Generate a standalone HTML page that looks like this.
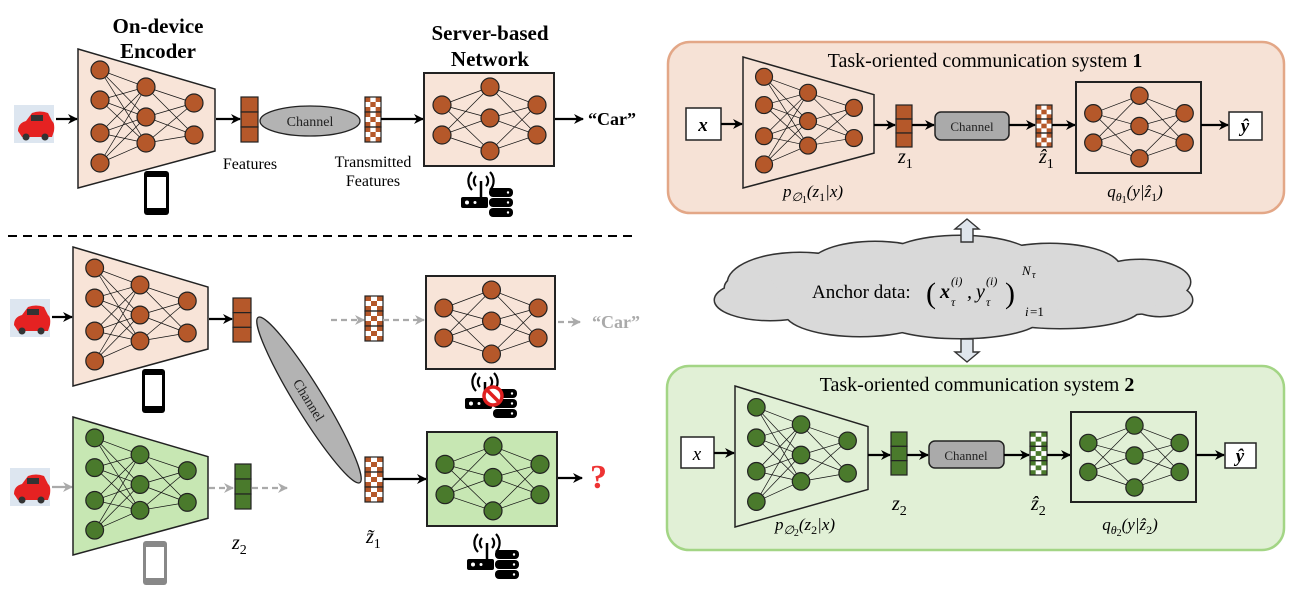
<!DOCTYPE html>
<html><head><meta charset="utf-8"><style>
html,body{margin:0;padding:0;background:#fff;}
svg{display:block;}
text{font-family:"Liberation Serif",serif;}
.m{font-family:"Liberation Serif",serif;font-style:italic;}
</style></head><body>
<svg id="s" width="1294" height="606" viewBox="0 0 1294 606" xmlns="http://www.w3.org/2000/svg">
<defs>
<marker id="ab" markerWidth="10" markerHeight="10" refX="9" refY="5" orient="auto" markerUnits="userSpaceOnUse"><path d="M0,0 L10,5 L0,10 L3,5 z" fill="#000"/></marker>
<marker id="ag" markerWidth="10" markerHeight="10" refX="9" refY="5" orient="auto" markerUnits="userSpaceOnUse"><path d="M0,0 L10,5 L0,10 L3,5 z" fill="#aaa"/></marker>
</defs>
<rect x="668" y="42" width="616" height="171" rx="22" fill="#f6e2d6" stroke="#e3a787" stroke-width="2.5"/>
<rect x="667" y="366" width="617" height="184" rx="22" fill="#e1f0d6" stroke="#a3d585" stroke-width="2.5"/>
<g id="g"></g>
<text x="158" y="33" font-size="21" font-weight="bold" text-anchor="middle">On-device</text>
<text x="158" y="58" font-size="21" font-weight="bold" text-anchor="middle">Encoder</text>
<text x="490" y="40" font-size="21" font-weight="bold" text-anchor="middle">Server-based</text>
<text x="490" y="66" font-size="21" font-weight="bold" text-anchor="middle">Network</text>
<text x="310" y="126" font-size="14" text-anchor="middle" fill="#222">Channel</text>
<text x="250" y="169" font-size="16" text-anchor="middle">Features</text>
<text x="373" y="167" font-size="16" text-anchor="middle">Transmitted</text>
<text x="373" y="186" font-size="16" text-anchor="middle">Features</text>
<text x="588" y="125" font-size="18" font-weight="bold">“Car”</text>
<text x="592" y="328" font-size="18" font-weight="bold" fill="#aaa">“Car”</text>
<text x="590" y="488" font-size="34" font-weight="bold" fill="#e33">?</text>
<text x="309" y="405" font-size="14" text-anchor="middle" fill="#222" transform="rotate(58.4 309 400)">Channel</text>
<text x="232" y="549" font-size="20" class="m">z<tspan font-size="14" dy="5" font-style="normal">2</tspan></text>
<text x="366" y="543" font-size="20" class="m">z̃<tspan font-size="14" dy="5" font-style="normal">1</tspan></text>

<text x="985" y="67" font-size="20" text-anchor="middle">Task-oriented communication system <tspan font-weight="bold">1</tspan></text>
<text x="977" y="391" font-size="20" text-anchor="middle">Task-oriented communication system <tspan font-weight="bold">2</tspan></text>
<text x="703" y="131" font-size="19" font-weight="bold" text-anchor="middle" class="m">x</text>
<text x="1245" y="132" font-size="19" font-weight="bold" text-anchor="middle" class="m">ŷ</text>
<text x="972" y="131" font-size="13" text-anchor="middle" fill="#222">Channel</text>
<text x="898" y="163" font-size="20" class="m">z<tspan font-size="14" dy="5" font-style="normal">1</tspan></text>
<text x="1039" y="163" font-size="20" class="m">ẑ<tspan font-size="14" dy="5" font-style="normal">1</tspan></text>
<text x="813" y="197" font-size="17" text-anchor="middle" class="m">p<tspan font-size="12" dy="4">∅</tspan><tspan font-size="10" dy="2" font-style="normal">1</tspan><tspan dy="-6">(z</tspan><tspan font-size="12" dy="4" font-style="normal">1</tspan><tspan dy="-4">|x)</tspan></text>
<text x="1135" y="197" font-size="17" text-anchor="middle" class="m">q<tspan font-size="12" dy="4">θ</tspan><tspan font-size="10" dy="2" font-style="normal">1</tspan><tspan dy="-6">(y|ẑ</tspan><tspan font-size="12" dy="4" font-style="normal">1</tspan><tspan dy="-4">)</tspan></text>

<text x="697" y="460" font-size="19" text-anchor="middle" class="m">x</text>
<text x="1240" y="462" font-size="19" font-weight="bold" text-anchor="middle" class="m">ŷ</text>
<text x="966" y="460" font-size="13" text-anchor="middle" fill="#222">Channel</text>
<text x="892" y="510" font-size="20" class="m">z<tspan font-size="14" dy="5" font-style="normal">2</tspan></text>
<text x="1031" y="510" font-size="20" class="m">ẑ<tspan font-size="14" dy="5" font-style="normal">2</tspan></text>
<text x="805" y="530" font-size="17" text-anchor="middle" class="m">p<tspan font-size="12" dy="4">∅</tspan><tspan font-size="10" dy="2" font-style="normal">2</tspan><tspan dy="-6">(z</tspan><tspan font-size="12" dy="4" font-style="normal">2</tspan><tspan dy="-4">|x)</tspan></text>
<text x="1130" y="530" font-size="17" text-anchor="middle" class="m">q<tspan font-size="12" dy="4">θ</tspan><tspan font-size="10" dy="2" font-style="normal">2</tspan><tspan dy="-6">(y|ẑ</tspan><tspan font-size="12" dy="4" font-style="normal">2</tspan><tspan dy="-4">)</tspan></text>
<g id="anchor"></g>
</svg>
<script>
var g=document.getElementById('g'),H='';
function add(s){H+=s;}
function line(x1,y1,x2,y2,o){o=o||{};var c=o.c||'#000',w=o.w||2;
 add('<line x1="'+x1+'" y1="'+y1+'" x2="'+x2+'" y2="'+y2+'" stroke="'+c+'" stroke-width="'+w+'"'+(o.d?' stroke-dasharray="'+o.d+'"':'')+(o.m?' marker-end="url(#'+o.m+')"':'')+'/>');}
function arr(x1,y,x2,gray,dash){line(x1,y,x2,y,{c:gray?'#aaa':'#000',w:2.2,m:gray?'ag':'ab',d:dash?'6,4':null});}
function net(cols,nf,r){
 for(var i=0;i<cols.length-1;i++)for(var a=0;a<cols[i].length;a++)for(var b=0;b<cols[i+1].length;b++)
  add('<line x1="'+cols[i][a][0]+'" y1="'+cols[i][a][1]+'" x2="'+cols[i+1][b][0]+'" y2="'+cols[i+1][b][1]+'" stroke="#111" stroke-width="0.7"/>');
 cols.forEach(function(c){c.forEach(function(p){add('<circle cx="'+p[0]+'" cy="'+p[1]+'" r="'+r+'" fill="'+nf+'" stroke="#222" stroke-width="1.2"/>');});});
}
function enc(x,y,w,h,fill,nf){var sx=w/137,sy=h/139;
 add('<polygon points="'+x+','+y+' '+(x+w)+','+(y+40*sy)+' '+(x+w)+','+(y+102*sy)+' '+x+','+(y+h)+'" fill="'+fill+'" stroke="#222" stroke-width="1.5"/>');
 var C=[[[22,21],[22,51],[22,84],[22,114]],[[68,38],[68,68],[68,94]],[[116,54],[116,86]]];
 net(C.map(function(c){return c.map(function(p){return [x+p[0]*sx,y+p[1]*sy];});}),nf,9*Math.min(sx,sy));}
function dec(x,y,w,h,fill,nf){var sx=w/130,sy=h/93;
 add('<rect x="'+x+'" y="'+y+'" width="'+w+'" height="'+h+'" fill="'+fill+'" stroke="#222" stroke-width="2"/>');
 var C=[[[18,32],[18,62]],[[66,14],[66,45],[66,78]],[[113,32],[113,62]]];
 net(C.map(function(c){return c.map(function(p){return [x+p[0]*sx,y+p[1]*sy];});}),nf,9*Math.min(sx,sy));}
function feat(x,y,w,h,f){var ch=h/3;for(var i=0;i<3;i++)add('<rect x="'+x+'" y="'+(y+i*ch)+'" width="'+w+'" height="'+ch+'" fill="'+f+'" stroke="#222" stroke-width="1.2"/>');}
function chk(x,y,w,h,f){var ch=h/3;add('<rect x="'+x+'" y="'+y+'" width="'+w+'" height="'+h+'" fill="#fff"/>');
 for(var i=0;i<3;i++){var n=3,cw=w/n,cy=ch/n;for(var a=0;a<n;a++)for(var b=0;b<n;b++)if((a+b)%2==0)add('<rect x="'+(x+a*cw)+'" y="'+(y+i*ch+b*cy)+'" width="'+cw+'" height="'+cy+'" fill="'+f+'"/>');
 add('<rect x="'+x+'" y="'+(y+i*ch)+'" width="'+w+'" height="'+ch+'" fill="none" stroke="#222" stroke-width="1.2"/>');}}
function car(x,y){add('<rect x="'+x+'" y="'+y+'" width="40" height="38" fill="#dde6f0"/><path d="M'+(x+4)+','+(y+26)+' q0,-8 8,-10 l6,-8 q8,-3 16,0 l4,8 q3,2 2,10 l-2,6 h-30 z" fill="#e52222"/><rect x="'+(x+17)+'" y="'+(y+10)+'" width="12" height="6" fill="#333"/><circle cx="'+(x+12)+'" cy="'+(y+32)+'" r="3.5" fill="#333"/><circle cx="'+(x+31)+'" cy="'+(y+32)+'" r="3.5" fill="#333"/>');}
function phone(x,y,w,h,c){add('<rect x="'+x+'" y="'+y+'" width="'+w+'" height="'+h+'" rx="3" fill="'+c+'"/><rect x="'+(x+3)+'" y="'+(y+6)+'" width="'+(w-6)+'" height="'+(h-13)+'" fill="#fff"/>');}
function icon(x,y,no){
 var cx=x+20,cy=y+8;
 add('<path d="M'+(cx-5)+','+(cy-5)+' a7,7 0 0 0 0,10 M'+(cx+5)+','+(cy-5)+' a7,7 0 0 1 0,10 M'+(cx-9)+','+(cy-9)+' a13,13 0 0 0 0,18 M'+(cx+9)+','+(cy-9)+' a13,13 0 0 1 0,18" fill="none" stroke="#000" stroke-width="2.2"/>');
 add('<line x1="'+cx+'" y1="'+cy+'" x2="'+cx+'" y2="'+(y+24)+'" stroke="#000" stroke-width="2.5"/>');
 add('<rect x="'+x+'" y="'+(y+24)+'" width="27" height="11" rx="2" fill="#000"/><circle cx="'+(x+6)+'" cy="'+(y+29.5)+'" r="2" fill="#fff"/><circle cx="'+(x+14)+'" cy="'+(y+29.5)+'" r="1.5" fill="#fff"/>');
 for(var i=0;i<3;i++)add('<rect x="'+(x+28)+'" y="'+(y+15+i*10)+'" width="24" height="9" rx="4" fill="#000"/><circle cx="'+(x+47)+'" cy="'+(y+19.5+i*10)+'" r="1.2" fill="#fff"/>');
 if(no)add('<circle cx="'+(x+28)+'" cy="'+(y+22)+'" r="9" fill="#fff" stroke="#e02020" stroke-width="3.5"/><line x1="'+(x+22)+'" y1="'+(y+16)+'" x2="'+(x+34)+'" y2="'+(y+28)+'" stroke="#e02020" stroke-width="3.5"/>');}
var OR='#b5582a',GR='#4a7a2c',PO='#f8e4d8',PG='#c7e7b3';
car(14,105);arr(56,119,77);
enc(78,49,137,139,PO,OR);
arr(216,119,240);feat(241,97,17,45,OR);
add('<ellipse cx="310" cy="121" rx="50" ry="15" fill="#b3b3b3" stroke="#222" stroke-width="1.3"/>');
chk(365,97,16,45,OR);arr(381,119,423);
dec(424,73,130,93,PO,OR);arr(555,119,583);
phone(144,171,25,44,'#000');icon(461,173,false);
line(8,236,636,236,{c:'#000',w:2,d:'9,6'});
car(10,299);arr(52,317,72);
enc(73,247,135,139,PO,OR);
arr(209,319,232);feat(233,298,18,44,OR);
add('<ellipse cx="309" cy="400" rx="97" ry="14" fill="#b3b3b3" stroke="#222" stroke-width="1.3" transform="rotate(58.4 309 400)"/>');
arr(331,320,364,true,true);chk(365,296,18,45,OR);arr(383,320,424,true,true);
dec(426,276,129,93,PO,OR);arr(558,322,580,true,true);
phone(142,369,23,44,'#000');icon(465,374,true);
car(10,468);arr(52,487,72,true);
enc(73,417,135,138,PG,GR);
arr(209,488,233,true,true);feat(235,464,16,45,GR);arr(252,488,287,true,true);
chk(365,457,18,45,OR);arr(383,479,426);
dec(427,432,130,94,PG,GR);arr(558,478,582);
phone(143,541,24,44,'#888');icon(467,535,false);
add('<rect x="686" y="108" width="35" height="32" fill="#fff" stroke="#222" stroke-width="1.5"/>');
arr(721,124,742);enc(743,57,131,131,'#f6e2d6',OR);
arr(874,125,895);feat(896,105,16,42,OR);arr(912,125,934);
add('<rect x="935" y="112" width="74" height="28" rx="6" fill="#aaa" stroke="#222" stroke-width="1.5"/>');
arr(1009,125,1035);chk(1036,105,16,42,OR);arr(1052,125,1075);
dec(1076,82,125,91,'#f6e2d6',OR);arr(1201,125,1228);
add('<rect x="1229" y="112" width="33" height="28" fill="#fff" stroke="#222" stroke-width="1.5"/>');
add('<rect x="681" y="437" width="33" height="31" fill="#fff" stroke="#222" stroke-width="1.5"/>');
arr(714,453,734);enc(735,386,133,141,'#e1f0d6',GR);
arr(868,455,890);feat(891,432,16,43,GR);arr(907,455,928);
add('<rect x="929" y="441" width="75" height="27" rx="6" fill="#aaa" stroke="#222" stroke-width="1.5"/>');
arr(1004,455,1029);chk(1030,432,17,43,GR);arr(1047,455,1070);
dec(1071,412,125,90,'#e1f0d6',GR);arr(1196,455,1224);
add('<rect x="1225" y="443" width="31" height="25" fill="#fff" stroke="#222" stroke-width="1.5"/>');
var E=[[800,283,72,30],[875,266,65,24],[960,262,78,26],[1050,268,70,24],[1140,282,50,22],[1160,300,32,16],[770,300,55,20],[860,312,75,24],[960,318,80,20],[1060,308,80,20],[1130,300,40,14],[750,288,25,14],[955,292,180,32],[1100,292,70,22]];
E.forEach(function(e){add('<ellipse cx="'+e[0]+'" cy="'+e[1]+'" rx="'+e[2]+'" ry="'+e[3]+'" fill="#333" stroke="#333" stroke-width="3"/>');});
E.forEach(function(e){add('<ellipse cx="'+e[0]+'" cy="'+e[1]+'" rx="'+e[2]+'" ry="'+e[3]+'" fill="#d9d9d9"/>');});
add('<polygon points="967,219 979,229 973,229 973,242 961,242 961,229 955,229" fill="#dfe5ec" stroke="#333" stroke-width="1.4"/>');
add('<polygon points="967,362 979,352 973,352 973,339 961,339 961,352 955,352" fill="#dfe5ec" stroke="#333" stroke-width="1.4"/>');
g.innerHTML=H;
document.getElementById('anchor').innerHTML=
'<text x="812" y="298" font-size="19">Anchor data:</text>'+
'<text x="926" y="303" font-size="30">(</text>'+
'<text x="940" y="298" font-size="20" font-weight="bold" font-style="italic">x</text>'+
'<text x="951" y="306" font-size="12" font-style="italic">τ</text>'+
'<text x="951" y="285" font-size="12" font-style="italic">(i)</text>'+
'<text x="967" y="298" font-size="20" font-style="italic">,</text>'+
'<text x="976" y="298" font-size="20" font-style="italic">y</text>'+
'<text x="986" y="306" font-size="12" font-style="italic">τ</text>'+
'<text x="986" y="285" font-size="12" font-style="italic">(i)</text>'+
'<text x="1005" y="303" font-size="30">)</text>'+
'<text x="1022" y="275" font-size="13" font-style="italic">N</text><text x="1032" y="278" font-size="10" font-style="italic">τ</text>'+
'<text x="1025" y="316" font-size="13" font-style="italic">i</text><text x="1030" y="316" font-size="13">=1</text>';
</script>
</body></html>
